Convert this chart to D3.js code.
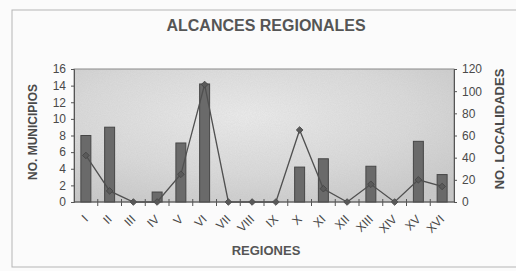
<!DOCTYPE html>
<html>
<head>
<meta charset="utf-8">
<script src="https://cdn.jsdelivr.net/npm/d3@7"></script>
<style>
  body { margin: 0; background: #fbfbfb; }
  svg { display: block; font-family: "Liberation Sans", Arial, sans-serif; }
</style>
</head>
<body>
<div id="chart"></div>
<script>
const regiones = ["I", "II", "III", "IV", "V", "VI", "VII", "VIII", "IX", "X", "XI", "XII", "XIII", "XIV", "XV", "XVI"];
const municipios = [8, 9, 0, 1.2, 7.1, 14.2, 0, 0, 0, 4.2, 5.2, 0, 4.3, 0, 7.3, 3.3];
const localidades = [42, 10, 0, 0, 25, 106, 0, 0, 0, 65, 12, 0, 16, 0, 20, 14];
const leftTicks = [0, 2, 4, 6, 8, 10, 12, 14, 16];
const rightTicks = [0, 20, 40, 60, 80, 100, 120];

const width = 516, height = 271;
const margin = { top: 69, right: 62, bottom: 69, left: 74 };
const plotW = width - margin.left - margin.right;
const plotH = height - margin.top - margin.bottom;

const svg = d3.select("#chart")
  .append("svg")
  .attr("width", width)
  .attr("height", height);

// scanned page frame
svg.append("rect")
  .attr("x", 12).attr("y", 10)
  .attr("width", 540).attr("height", 257)
  .attr("fill", "none")
  .attr("stroke", "#b5b5b5")
  .attr("stroke-width", 1);

const defs = svg.append("defs");
const grad = defs.append("radialGradient")
  .attr("id", "plotBg")
  .attr("cx", "45%").attr("cy", "35%").attr("r", "75%");
grad.append("stop").attr("offset", "0%").attr("stop-color", "#ececec");
grad.append("stop").attr("offset", "60%").attr("stop-color", "#dadada");
grad.append("stop").attr("offset", "100%").attr("stop-color", "#c9c9c9");

const noise = defs.append("filter").attr("id", "noise");
noise.append("feTurbulence")
  .attr("type", "fractalNoise")
  .attr("baseFrequency", "0.9")
  .attr("numOctaves", 2)
  .attr("seed", 3);
noise.append("feColorMatrix")
  .attr("type", "matrix")
  .attr("values", "0 0 0 0 0.4  0 0 0 0 0.4  0 0 0 0 0.4  0 0 0 0.35 0");
noise.append("feComposite").attr("in2", "SourceGraphic").attr("operator", "in");

const g = svg.append("g")
  .attr("transform", `translate(${margin.left}, ${margin.top})`);

// Scales
const x = d3.scaleBand()
  .domain(regiones)
  .range([0, plotW])
  .paddingInner(0.58)
  .paddingOuter(0.29);
const y = d3.scaleLinear().domain([0, 16]).range([plotH, 0]);
const y2 = d3.scaleLinear().domain([0, 120]).range([plotH, 0]);

// Plot background
g.append("rect")
  .attr("width", plotW).attr("height", plotH)
  .attr("fill", "url(#plotBg)");
g.append("rect")
  .attr("width", plotW).attr("height", plotH)
  .attr("fill", "#888")
  .attr("filter", "url(#noise)")
  .attr("opacity", 0.5);
g.append("rect")
  .attr("width", plotW).attr("height", plotH)
  .attr("fill", "none")
  .attr("stroke", "#8a8a8a")
  .attr("stroke-width", 1);

// Bars
g.append("g")
  .selectAll("rect")
  .data(regiones)
  .enter()
  .append("rect")
  .attr("x", (d) => x(d))
  .attr("y", (d, i) => y(municipios[i]))
  .attr("width", x.bandwidth())
  .attr("height", (d, i) => plotH - y(municipios[i]))
  .attr("fill", "#6a6a6a")
  .attr("stroke", "#464646")
  .attr("stroke-width", 1);

// Line
const cx = (d) => x(d) + x.bandwidth() / 2;
const line = d3.line()
  .x((d) => cx(d))
  .y((d, i) => y2(localidades[i]));
g.append("path")
  .datum(regiones)
  .attr("d", line)
  .attr("fill", "none")
  .attr("stroke", "#505050")
  .attr("stroke-width", 1.3);

g.append("g")
  .selectAll("path")
  .data(regiones)
  .enter()
  .append("path")
  .attr("d", d3.symbol().type(d3.symbolSquare).size(22))
  .attr("transform", (d, i) => `translate(${cx(d)}, ${y2(localidades[i])}) rotate(45)`)
  .attr("fill", "#5a5a5a")
  .attr("stroke", "#444")
  .attr("stroke-width", 0.8);

// Axes
const axisColor = "#555";
const leftAxis = g.append("g")
  .call(d3.axisLeft(y).tickValues(leftTicks).tickSize(3).tickPadding(5));
const rightAxis = g.append("g")
  .attr("transform", `translate(${plotW}, 0)`)
  .call(d3.axisRight(y2).tickValues(rightTicks).tickSize(3).tickPadding(5));
[leftAxis, rightAxis].forEach((a) => {
  a.select(".domain").attr("stroke", axisColor);
  a.selectAll(".tick line").attr("stroke", axisColor);
  a.selectAll(".tick text")
    .attr("fill", "#4a4a4a")
    .style("font-size", "12px")
    .style("font-family", "Liberation Sans, Arial, sans-serif");
});

// x axis line and boundary ticks
g.append("line")
  .attr("x1", 0).attr("x2", plotW)
  .attr("y1", plotH).attr("y2", plotH)
  .attr("stroke", axisColor);
const half = (x.step() - x.bandwidth()) / 2;
g.append("g")
  .selectAll("line")
  .data(regiones.slice(1))
  .enter()
  .append("line")
  .attr("x1", (d) => x(d) - half)
  .attr("x2", (d) => x(d) - half)
  .attr("y1", plotH - 3)
  .attr("y2", plotH + 4)
  .attr("stroke", axisColor);

g.append("g")
  .selectAll("text")
  .data(regiones)
  .enter()
  .append("text")
  .text((d) => d)
  .attr("transform", (d) => `translate(${cx(d)}, ${plotH + 15}) rotate(-45)`)
  .attr("text-anchor", "end")
  .attr("dy", "0.35em")
  .attr("fill", "#4a4a4a")
  .style("font-size", "12px");

// Titles
svg.append("text")
  .text("ALCANCES REGIONALES")
  .attr("x", 266).attr("y", 31)
  .attr("text-anchor", "middle")
  .attr("fill", "#555")
  .style("font-weight", "bold")
  .style("font-size", "16px");

svg.append("text")
  .text("REGIONES")
  .attr("x", 266).attr("y", 255)
  .attr("text-anchor", "middle")
  .attr("fill", "#555")
  .style("font-weight", "bold")
  .style("font-size", "13px");

svg.append("text")
  .text("NO. MUNICIPIOS")
  .attr("transform", `translate(37, 132) rotate(-90)`)
  .attr("text-anchor", "middle")
  .attr("fill", "#4a4a4a")
  .style("font-weight", "bold")
  .style("font-size", "12px");

svg.append("text")
  .text("NO. LOCALIDADES")
  .attr("transform", `translate(504, 129) rotate(-90)`)
  .attr("text-anchor", "middle")
  .attr("fill", "#4a4a4a")
  .style("font-weight", "bold")
  .style("font-size", "13px");
</script>
</body>
</html>
